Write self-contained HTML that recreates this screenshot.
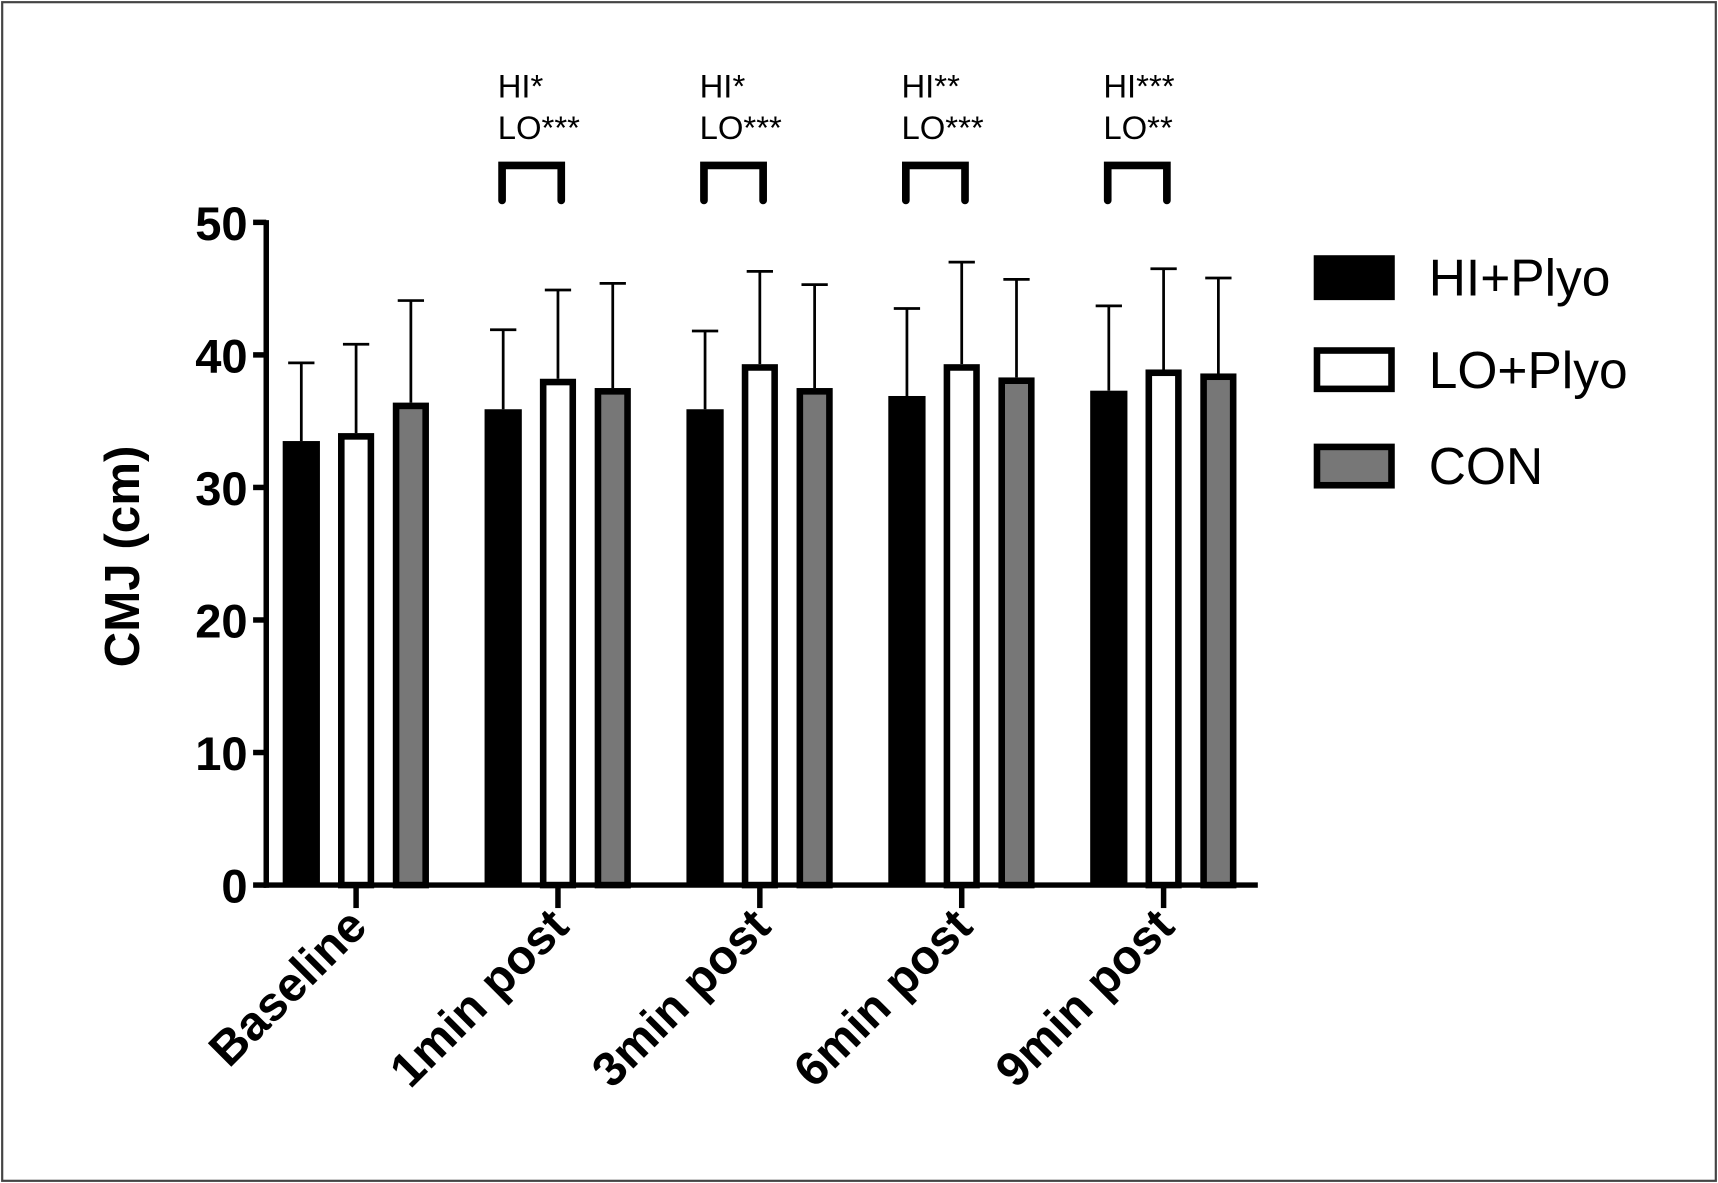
<!DOCTYPE html>
<html><head><meta charset="utf-8"><style>
html,body{margin:0;padding:0;background:#fff;}
svg{display:block;font-family:"Liberation Sans",Arial,sans-serif;}
</style></head><body>
<svg id="chart" width="1718" height="1183" viewBox="0 0 1568 1080" preserveAspectRatio="none">
<rect x="2" y="2" width="1564" height="1076" fill="#fff" stroke="#444" stroke-width="2"/>
<g id="plot"></g>
</svg>
<script>
const categories = ["Baseline","1min post","3min post","6min post","9min post"];
const seriesNames = ["HI+Plyo","LO+Plyo","CON"];
const hiMean = [33.5,35.9,35.9,36.9,37.3];
const hiErr = [39.4,41.9,41.8,43.5,43.7];
const loMean = [34.1,38.2,39.3,39.3,38.9];
const loErr = [40.8,44.9,46.3,47.0,46.5];
const conMean = [36.4,37.5,37.5,38.3,38.6];
const conErr = [44.1,45.4,45.3,45.7,45.8];
const yTicks = [0,10,20,30,40,50];
const sigHI = ["","HI*","HI*","HI**","HI***"];
const sigLO = ["","LO***","LO***","LO***","LO**"];

const NS="http://www.w3.org/2000/svg";
const g=document.getElementById('plot');
function mk(tag,attrs,name,inter){const e=document.createElementNS(NS,tag);for(const k in attrs)e.setAttribute(k,attrs[k]);


g.appendChild(e);return e;}
const x0=243, y0=808, yTop=203;
function yScale(v){return y0-(v/50)*(y0-yTop);}
function xCenter(i){return 325+i*184.25;}
const pitch=50, bw=32;
const means=[hiMean,loMean,conMean], errs=[hiErr,loErr,conErr];
const fills=["#000","#fff","#777"];
mk('line',{x1:x0,y1:yTop-2,x2:x0,y2:y0+2.5,stroke:'#000','stroke-width':5},'y-axis-line');
mk('line',{x1:x0-2.5,y1:y0,x2:1148,y2:y0,stroke:'#000','stroke-width':5},'x-axis-line');
yTicks.forEach(t=>{const y=yScale(t);
mk('line',{x1:231,y1:y,x2:x0,y2:y,stroke:'#000','stroke-width':5},'y-tick');
const tx=mk('text',{x:226,y:y+16,'text-anchor':'end','font-size':43,'font-weight':'bold'},'y-tick-label');tx.textContent=t;});
const yt=mk('text',{x:0,y:0,transform:'translate(127,508) rotate(-90)','text-anchor':'middle','font-size':45,'font-weight':'bold'},'y-axis-title');yt.textContent='CMJ (cm)';
categories.forEach((c,i)=>{const cx=xCenter(i);
mk('line',{x1:cx,y1:y0,x2:cx,y2:829,stroke:'#000','stroke-width':5},'x-tick');
const lb=mk('text',{x:0,y:0,transform:`translate(${cx+12},${848}) rotate(-45)`,'text-anchor':'end','font-size':44,'font-weight':'bold'},'x-tick-label');lb.textContent=c;
for(let s=0;s<3;s++){const bx=cx+(s-1)*pitch;const top=yScale(means[s][i]);const et=yScale(errs[s][i]);
mk('line',{x1:bx,y1:top,x2:bx,y2:et,stroke:'#000','stroke-width':2.5},'error-bar');
mk('line',{x1:bx-12,y1:et,x2:bx+12,y2:et,stroke:'#000','stroke-width':2.5},'error-cap');
if(s==0) mk('rect',{x:bx-bw/2-1,y:top,width:bw+2,height:y0-top,fill:'#000'},'bar-'+seriesNames[s].toLowerCase().replace('+','-'));
else mk('rect',{x:bx-bw/2+2.5,y:top+3,width:bw-5,height:y0-top-3,fill:fills[s],stroke:'#000','stroke-width':6},'bar-'+seriesNames[s].toLowerCase().replace('+','-'));}
if(sigHI[i]){const a=cx-pitch,b=cx;
mk('path',{d:`M${a-1},183 L${a-1},151 L${b+3},151 L${b+3},183`,fill:'none',stroke:'#000','stroke-width':7,'stroke-linecap':'round','stroke-linejoin':'miter'},'significance-bracket');
const t1=mk('text',{x:a-5,y:89,'font-size':30},'significance-label-hi');t1.textContent=sigHI[i];
const t2=mk('text',{x:a-5,y:127,'font-size':30},'significance-label-lo');t2.textContent=sigLO[i];}
});
const ly=[253,337,425];
seriesNames.forEach((n,s)=>{
if(s==0) mk('rect',{x:1199,y:ly[s]-20,width:74,height:41,fill:'#000'},'legend-swatch');
else mk('rect',{x:1202,y:ly[s]-17,width:68,height:35,fill:fills[s],stroke:'#000','stroke-width':6},'legend-swatch');
const t=mk('text',{x:1304,y:ly[s]+17,'font-size':47},'legend-label');t.textContent=n;});
</script>
</body></html>
